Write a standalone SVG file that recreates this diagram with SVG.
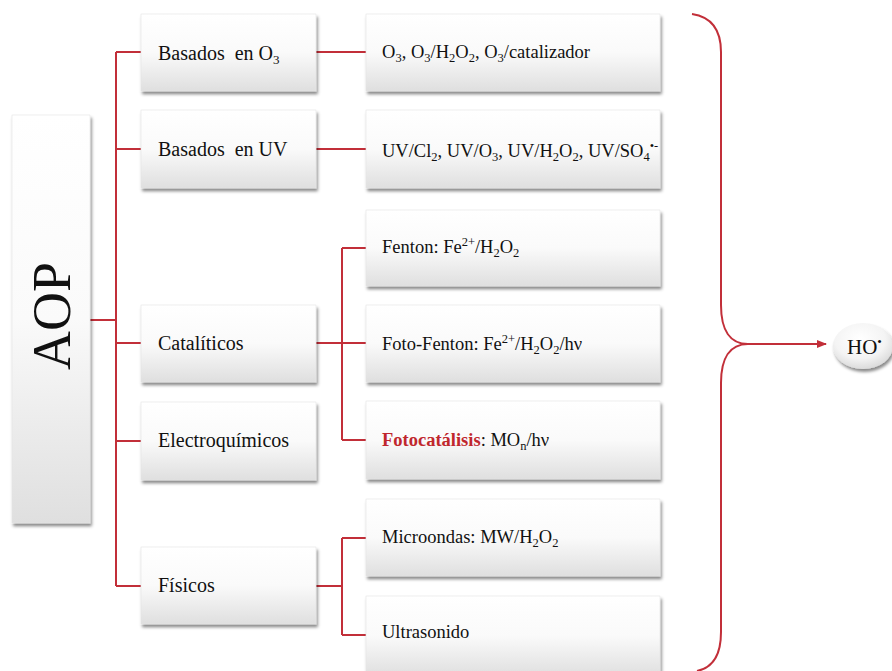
<svg xmlns="http://www.w3.org/2000/svg" width="892" height="671" viewBox="0 0 892 671">
<defs>
<linearGradient id="g" x1="0" y1="0" x2="0" y2="1">
<stop offset="0" stop-color="#ffffff"/>
<stop offset="0.5" stop-color="#fafafa"/>
<stop offset="1" stop-color="#dfdfdf"/>
</linearGradient>
<radialGradient id="ge" cx="0.45" cy="0.35" r="0.7">
<stop offset="0" stop-color="#ffffff"/>
<stop offset="0.6" stop-color="#f4f4f4"/>
<stop offset="1" stop-color="#d6d6d6"/>
</radialGradient>
<filter id="sh" x="-10%" y="-10%" width="130%" height="130%">
<feDropShadow dx="1.5" dy="3" stdDeviation="1.6" flood-color="#000" flood-opacity="0.45"/>
</filter>
<marker id="ah" markerWidth="10" markerHeight="8" refX="9" refY="4" orient="auto" markerUnits="userSpaceOnUse">
<path d="M0,0 L10,4 L0,8 Z" fill="#c22f39"/>
</marker>
</defs>
<style>
.box{fill:url(#g);stroke:#e4e4e4;stroke-width:0.6;filter:url(#sh)}
.t1{font-family:"Liberation Serif","Times New Roman",serif;font-size:20px;fill:#111}
.t2{font-family:"Liberation Serif","Times New Roman",serif;font-size:18.5px;fill:#111}
.ln{fill:none;stroke:#c22f39;stroke-width:2}
.red{fill:#c0272d;font-weight:bold}
</style>
<g id="connectors">
<path class="ln" d="M90,320 H116 M116,52 V586 M116,52 H141 M116,149 H141 M116,343 H141 M116,441 H141 M116,586 H141"/>
<path class="ln" d="M316,52 H366 M316,149 H366"/>
<path class="ln" d="M316,343 H342 M342,248 V440 M342,248 H366 M342,343 H366 M342,440 H366"/>
<path class="ln" d="M316,586 H342 M342,538 V635 M342,538 H366 M342,635 H366"/>
<path class="ln" d="M692,14 C712,17 721,30 721,52 L721,305 C721,330 730,344 748,344 C730,344 721,358 721,383 L721,632 C721,656 712,668 697,671"/>
<path class="ln" d="M748,344 H826" marker-end="url(#ah)"/>
</g>
<g id="aop">
<rect class="box" x="12" y="115" width="78" height="408"/>
<text transform="translate(70,316) rotate(-90)" text-anchor="middle" style="font-family:'Liberation Serif','Times New Roman',serif;font-size:54px;fill:#111">AOP</text>
</g>
<g id="n-o3">
<rect class="box" x="141" y="14" width="175" height="77"/>
<text class="t1" x="158" y="60">Basados&#160; en O<tspan font-size="13" dy="4">3</tspan></text>
</g>
<g id="n-uv">
<rect class="box" x="141" y="110" width="175" height="78"/>
<text class="t1" x="158" y="156">Basados&#160; en UV</text>
</g>
<g id="n-cat">
<rect class="box" x="141" y="305" width="175" height="77"/>
<text class="t1" x="158" y="350">Catalíticos</text>
</g>
<g id="n-elec">
<rect class="box" x="141" y="402" width="175" height="78"/>
<text class="t1" x="158" y="447">Electroquímicos</text>
</g>
<g id="n-fis">
<rect class="box" x="141" y="547" width="175" height="77"/>
<text class="t1" x="158" y="592">Físicos</text>
</g>
<g id="m-o3">
<rect class="box" x="366" y="14" width="294" height="77"/>
<text class="t2" x="382" y="58">O<tspan font-size="12.5" dy="4">3</tspan><tspan dy="-4">, O</tspan><tspan font-size="12.5" dy="4">3</tspan><tspan dy="-4">/H</tspan><tspan font-size="12.5" dy="4">2</tspan><tspan dy="-4">O</tspan><tspan font-size="12.5" dy="4">2</tspan><tspan dy="-4">, O</tspan><tspan font-size="12.5" dy="4">3</tspan><tspan dy="-4">/catalizador</tspan></text>
</g>
<g id="m-uv">
<rect class="box" x="366" y="110" width="294" height="78"/>
<text class="t2" x="382" y="157">UV/Cl<tspan font-size="12.5" dy="4">2</tspan><tspan dy="-4">, UV/O</tspan><tspan font-size="12.5" dy="4">3</tspan><tspan dy="-4">, UV/H</tspan><tspan font-size="12.5" dy="4">2</tspan><tspan dy="-4">O</tspan><tspan font-size="12.5" dy="4">2</tspan><tspan dy="-4">, UV/SO</tspan><tspan font-size="12.5" dy="4">4</tspan><tspan font-size="12.5" dy="-11">•-</tspan></text>
</g>
<g id="m-fenton">
<rect class="box" x="366" y="210" width="294" height="76"/>
<text class="t2" x="382" y="253">Fenton: Fe<tspan font-size="12.5" dy="-7">2+</tspan><tspan dy="7">/H</tspan><tspan font-size="12.5" dy="4">2</tspan><tspan dy="-4">O</tspan><tspan font-size="12.5" dy="4">2</tspan></text>
</g>
<g id="m-foto">
<rect class="box" x="366" y="305" width="294" height="77"/>
<text class="t2" x="382" y="350">Foto-Fenton: Fe<tspan font-size="12.5" dy="-7">2+</tspan><tspan dy="7">/H</tspan><tspan font-size="12.5" dy="4">2</tspan><tspan dy="-4">O</tspan><tspan font-size="12.5" dy="4">2</tspan><tspan dy="-4">/hν</tspan></text>
</g>
<g id="m-fotocat">
<rect class="box" x="366" y="401" width="294" height="78"/>
<text class="t2" x="382" y="446"><tspan class="red">Fotocatálisis</tspan>: MO<tspan font-size="12.5" dy="4">n</tspan><tspan dy="-4">/hν</tspan></text>
</g>
<g id="m-micro">
<rect class="box" x="366" y="499" width="294" height="77"/>
<text class="t2" x="382" y="543">Microondas: MW/H<tspan font-size="12.5" dy="4">2</tspan><tspan dy="-4">O</tspan><tspan font-size="12.5" dy="4">2</tspan></text>
</g>
<g id="m-ultra">
<rect class="box" x="366" y="596" width="294" height="80"/>
<text class="t2" x="382" y="638">Ultrasonido</text>
</g>
<g id="ho">
<ellipse cx="863" cy="346" rx="30" ry="23" fill="url(#ge)" style="filter:url(#sh)"/>
<text x="847" y="354" style="font-family:'Liberation Serif','Times New Roman',serif;font-size:21px;fill:#111">HO<tspan font-size="13" dy="-8">•</tspan></text>
</g>
</svg>
